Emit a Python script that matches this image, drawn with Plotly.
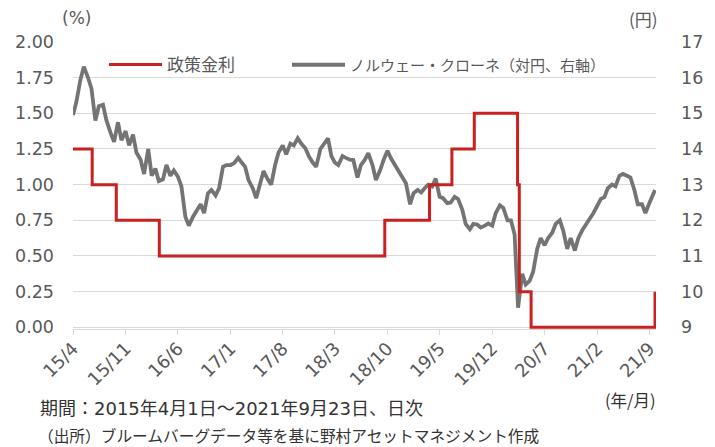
import pandas as pd
import plotly.graph_objects as go

# ---- Data -------------------------------------------------------------
# Norges Bank policy rate (%), step changes
rate_dates = ["2015-04-01", "2015-06-18", "2015-09-24", "2016-03-17", "2018-09-20",
              "2019-03-21", "2019-06-20", "2019-09-19", "2020-03-13", "2020-03-20",
              "2020-05-07", "2021-09-23"]
rate_values = [1.25, 1.00, 0.75, 0.50, 0.75, 1.00, 1.25, 1.50, 1.00, 0.25, 0.00, 0.25]

nok_2015 = [14.95, 15.33, 15.94, 16.31, 16.0, 15.7, 14.8, 15.2, 15.24, 14.8, 14.45, 14.2,
            14.75, 14.25, 14.5, 14.1, 14.4, 13.9]
nok_2016 = [13.7, 13.3, 14.0, 13.25, 13.45, 13.1, 13.15, 13.55, 13.25, 13.4, 13.22, 12.95,
            12.1, 11.85, 12.1, 12.25, 12.45, 12.2, 12.76, 12.85, 12.7, 12.9, 13.5, 13.55]
nok_2017 = [13.55, 13.6, 13.75, 13.62, 13.5, 13.13, 12.9, 12.62, 13.0, 13.38, 13.15, 13.0,
            13.55, 13.9, 14.1, 13.85, 14.15, 14.1, 14.3, 14.15, 14.02, 13.8, 13.62, 13.5]
nok_2018 = [14.0, 14.15, 14.3, 13.8, 13.62, 13.55, 13.8, 13.75, 13.7, 13.69, 13.2, 13.55,
            13.7, 13.88, 13.55, 13.13, 13.4, 13.69, 13.95, 13.74, 13.55, 13.41, 13.22, 13.04]
nok_2019 = [12.45, 12.76, 12.85, 12.78, 12.9, 13.0, 12.95, 13.17, 12.66, 12.62, 12.48, 12.5,
            12.66, 12.6, 12.3, 11.9, 11.75, 11.9, 11.88, 11.8, 11.85, 11.91, 11.85, 12.2]
nok_2020 = [12.42, 12.35, 12.0, 12.0, 11.6, 9.55, 10.5, 10.2, 10.3, 10.55, 11.2, 11.5,
            11.3, 11.5, 11.65, 11.9, 12.0, 11.7, 11.2, 11.5, 11.15, 11.5, 11.72, 11.85]
nok_2021 = [12.05, 12.2, 12.4, 12.6, 12.65, 12.9, 13.0, 12.95, 13.25, 13.3, 13.25, 13.2,
            12.85, 12.45, 12.45, 12.2, 12.5, 12.75]
nok_last_date = "2021-09-23"
nok_last_value = 12.85

tick_dates = ["2015-04-01", "2015-11-01", "2016-06-01", "2017-01-01", "2017-08-01",
              "2018-03-01", "2018-10-01", "2019-05-01", "2019-12-01", "2020-07-01",
              "2021-02-01", "2021-09-01"]
tick_labels = ["15/4", "15/11", "16/6", "17/1", "17/8", "18/3", "18/10", "19/5",
               "19/12", "20/7", "21/2", "21/9"]

pct_ticks = [0, 0.25, 0.5, 0.75, 1.0, 1.25, 1.5, 1.75, 2.0]
yen_ticks = [9, 10, 11, 12, 13, 14, 15, 16, 17]

# ---- Build series -------------------------------------------------------
nok_values = nok_2015 + nok_2016 + nok_2017 + nok_2018 + nok_2019 + nok_2020 + nok_2021
nok_dates = list(pd.date_range("2015-04-01", "2021-09-15", freq="SMS").strftime("%Y-%m-%d"))
assert len(nok_dates) == len(nok_values), (len(nok_dates), len(nok_values))
nok_dates.append(nok_last_date)
nok_values.append(nok_last_value)

RED = "#C8211F"
GRAY = "#747474"
GRID = "#D9D9D9"
TXT = "#595959"
NUMFONT = "DejaVu Sans, Verdana, sans-serif"
JPFONT = "Noto Sans CJK JP, sans-serif"
MIXFONT = "DejaVu Sans, Noto Sans CJK JP, sans-serif"

lo, hi = -0.012, 2.0

fig = go.Figure()
fig.add_trace(go.Scatter(
    x=rate_dates, y=rate_values, name="政策金利", mode="lines",
    line=dict(color=RED, width=3, shape="hv"), yaxis="y2", legend="legend"))
fig.add_trace(go.Scatter(
    x=nok_dates, y=nok_values, name="ノルウェー・クローネ（対円、右軸）", mode="lines",
    line=dict(color=GRAY, width=3.8), yaxis="y", legend="legend2"))

W, H = 715, 447
ml, mr, mt, mb = 73, 59, 42, 118
pw = W - ml - mr
ph = H - mt - mb


def px(xp):
    return (xp - ml) / pw


def py(yp):
    return (H - mb - yp) / ph


leg_common = dict(orientation="h", yanchor="middle", xanchor="left",
                  bgcolor="rgba(0,0,0,0)", itemwidth=53)

fig.update_layout(
    width=W, height=H,
    margin=dict(l=ml, r=mr, t=mt, b=mb),
    paper_bgcolor="white", plot_bgcolor="white",
    showlegend=True,
    legend=dict(x=px(104), y=py(65), font=dict(family=JPFONT, size=17, color=TXT),
                **leg_common),
    legend2=dict(x=px(287), y=py(65), font=dict(family=JPFONT, size=15, color=TXT),
                 **leg_common),
    xaxis=dict(type="date", range=["2015-04-01", "2021-09-27"],
               tickmode="array", tickvals=tick_dates, ticktext=tick_labels,
               tickangle=-45, showgrid=False, zeroline=False,
               showline=True, linecolor=GRID, linewidth=1,
               ticks="outside", ticklen=5, tickcolor=GRID, tickwidth=1,
               ticklabelstandoff=-4,
               tickfont=dict(family=NUMFONT, size=18, color=TXT)),
    yaxis=dict(side="right", range=[9 + 4 * lo, 9 + 4 * hi],
               tickmode="array", tickvals=yen_ticks, ticktext=[str(v) for v in yen_ticks],
               showgrid=True, gridcolor=GRID, gridwidth=1, zeroline=False,
               ticks="", ticklabelstandoff=24,
               tickfont=dict(family=NUMFONT, size=17.5, color=TXT)),
    yaxis2=dict(overlaying="y", side="left", range=[lo, hi],
                tickmode="array", tickvals=pct_ticks,
                ticktext=[f"{v:.2f}" for v in pct_ticks],
                showgrid=False, zeroline=False, ticks="", ticklabelstandoff=18,
                tickfont=dict(family=NUMFONT, size=17.5, color=TXT)),
    annotations=[
        dict(text="(%)", xref="paper", yref="paper", x=px(76), y=py(18),
             xanchor="center", yanchor="middle", showarrow=False,
             font=dict(family=NUMFONT, size=17, color=TXT)),
        dict(text="(円)", xref="paper", yref="paper", x=px(643), y=py(18),
             xanchor="center", yanchor="middle", showarrow=False,
             font=dict(family=JPFONT, size=17, color=TXT)),
        dict(text="(年/月)", xref="paper", yref="paper", x=px(630), y=py(400),
             xanchor="center", yanchor="middle", showarrow=False,
             font=dict(family=JPFONT, size=16.5, color="#333333")),
        dict(text="期間：2015年4月1日～2021年9月23日、日次", xref="paper", yref="paper",
             x=px(38), y=py(408), xanchor="left", yanchor="middle", showarrow=False,
             font=dict(family=MIXFONT, size=18, color="#333333")),
        dict(text="（出所）ブルームバーグデータ等を基に野村アセットマネジメント作成",
             xref="paper", yref="paper",
             x=px(36), y=py(435), xanchor="left", yanchor="middle", showarrow=False,
             font=dict(family=JPFONT, size=15.7, color="#333333")),
    ],
)

fig.write_html("out.html", config={"displayModeBar": False},
               post_script="document.body.style.margin='0px';document.body.style.overflow='hidden';")
